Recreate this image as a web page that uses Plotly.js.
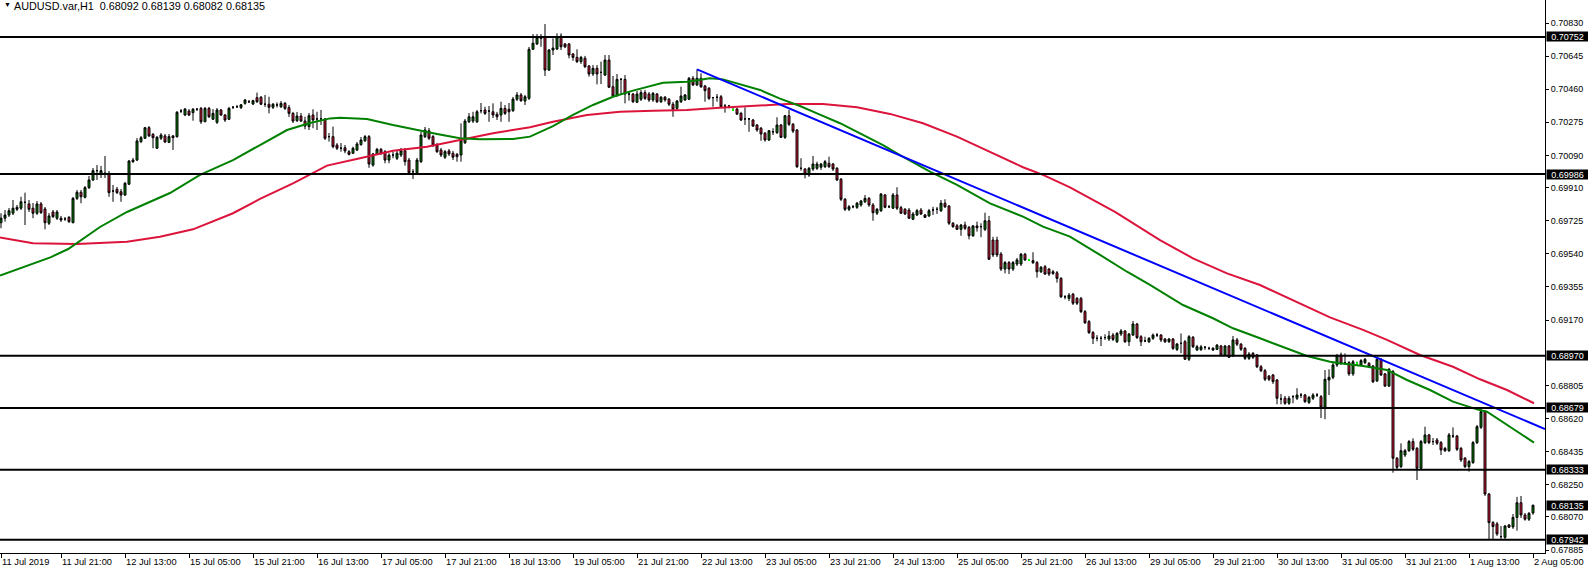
<!DOCTYPE html>
<html>
<head>
<meta charset="utf-8">
<script src="https://cdn.plot.ly/plotly-3.0.1.min.js"></script>
<style>
html,body{margin:0;padding:0;background:#ffffff;}
#chart{width:1588px;height:570px;}
</style>
</head>
<body>
<div id="chart"></div>
<script>
// ---- OHLC data, one value per H1 bar (11 Jul 06:00 .. 2 Aug 05:00) ----
const openP = [
0.69714,0.69739,0.69757,0.69767,0.69789,0.69795,0.69828,0.69819,0.69795,0.69767,0.69819,0.69791,0.69711,0.69774,0.69739,0.69739,
0.69735,0.69744,0.69714,0.69850,0.69884,0.69856,0.69910,0.69953,0.70005,0.69990,0.69990,0.69990,0.69891,0.69901,0.69887,0.69869,
0.69929,0.70055,0.70064,0.70167,0.70186,0.70245,0.70208,0.70130,0.70186,0.70199,0.70163,0.70199,0.70195,0.70338,0.70316,0.70338,
0.70329,0.70348,0.70353,0.70278,0.70353,0.70292,0.70275,0.70344,0.70316,0.70292,0.70359,0.70362,0.70357,0.70381,0.70390,0.70377,
0.70413,0.70415,0.70376,0.70376,0.70359,0.70372,0.70362,0.70381,0.70357,0.70325,0.70284,0.70310,0.70282,0.70251,0.70316,0.70294,
0.70294,0.70294,0.70195,0.70195,0.70148,0.70130,0.70133,0.70111,0.70102,0.70120,0.70150,0.70172,0.70195,0.70036,0.70098,0.70124,
0.70111,0.70064,0.70092,0.70074,0.70092,0.70116,0.70064,0.69999,0.69993,0.70055,0.70195,0.70228,0.70195,0.70148,0.70120,0.70080,
0.70115,0.70102,0.70096,0.70092,0.70161,0.70278,0.70282,0.70278,0.70340,0.70344,0.70338,0.70334,0.70320,0.70316,0.70353,0.70348,
0.70340,0.70404,0.70428,0.70394,0.70409,0.70683,0.70713,0.70744,0.70753,0.70567,0.70679,0.70685,0.70757,0.70713,0.70713,0.70657,
0.70638,0.70614,0.70633,0.70590,0.70545,0.70577,0.70554,0.70539,0.70623,0.70474,0.70428,0.70515,0.70515,0.70433,0.70433,0.70387,
0.70404,0.70441,0.70433,0.70400,0.70433,0.70390,0.70415,0.70404,0.70376,0.70353,0.70390,0.70400,0.70404,0.70521,0.70484,0.70521,
0.70478,0.70465,0.70413,0.70415,0.70418,0.70366,0.70366,0.70344,0.70349,0.70325,0.70294,0.70294,0.70288,0.70260,0.70242,0.70214,
0.70176,0.70222,0.70217,0.70260,0.70191,0.70312,0.70264,0.70232,0.70018,0.70014,0.69981,0.70014,0.70018,0.70024,0.70027,0.70046,
0.70042,0.70018,0.69957,0.69845,0.69789,0.69803,0.69800,0.69813,0.69831,0.69850,0.69813,0.69767,0.69781,0.69869,0.69803,0.69795,
0.69869,0.69798,0.69789,0.69785,0.69733,0.69757,0.69785,0.69757,0.69752,0.69785,0.69789,0.69781,0.69823,0.69807,0.69711,0.69697,
0.69677,0.69701,0.69688,0.69641,0.69696,0.69692,0.69677,0.69725,0.69617,0.69617,0.69539,0.69455,0.69491,0.69455,0.69483,0.69483,
0.69538,0.69506,0.69502,0.69491,0.69440,0.69468,0.69455,0.69440,0.69434,0.69403,0.69300,0.69291,0.69315,0.69291,0.69291,0.69217,
0.69161,0.69100,0.69068,0.69068,0.69072,0.69064,0.69086,0.69049,0.69092,0.69109,0.69049,0.69086,0.69148,0.69077,0.69053,0.69049,
0.69068,0.69086,0.69086,0.69064,0.69049,0.69064,0.69006,0.69040,0.69049,0.68951,0.69074,0.69003,0.69005,0.69018,0.69012,0.69012,
0.69006,0.69025,0.68974,0.69025,0.68974,0.69059,0.69035,0.69012,0.68956,0.68984,0.68975,0.68909,0.68887,0.68857,0.68863,0.68835,
0.68729,0.68733,0.68705,0.68742,0.68733,0.68751,0.68751,0.68710,0.68733,0.68751,0.68742,0.68683,0.68835,0.68850,0.68919,0.68975,
0.68932,0.68932,0.68869,0.68928,0.68919,0.68932,0.68928,0.68913,0.68830,0.68951,0.68869,0.68801,0.68882,0.68398,0.68351,0.68416,
0.68440,0.68491,0.68453,0.68342,0.68485,0.68528,0.68491,0.68500,0.68485,0.68453,0.68440,0.68522,0.68522,0.68453,0.68398,0.68351,
0.68374,0.68485,0.68571,0.68658,0.68198,0.68038,0.68031,0.67960,0.67956,0.68025,0.68014,0.68067,0.68149,0.68081,0.68057,0.68092
];
const highP = [
0.69767,0.69785,0.69796,0.69841,0.69813,0.69859,0.69882,0.69841,0.69824,0.69835,0.69830,0.69802,0.69768,0.69785,0.69785,0.69752,
0.69746,0.69752,0.69858,0.69897,0.69897,0.69919,0.69975,0.70020,0.70036,0.70031,0.70087,0.70003,0.69925,0.69914,0.69902,0.69942,
0.70064,0.70076,0.70187,0.70199,0.70249,0.70254,0.70215,0.70199,0.70215,0.70210,0.70210,0.70204,0.70338,0.70349,0.70355,0.70349,
0.70355,0.70355,0.70361,0.70361,0.70361,0.70349,0.70355,0.70349,0.70321,0.70361,0.70366,0.70372,0.70377,0.70405,0.70400,0.70401,
0.70441,0.70422,0.70428,0.70418,0.70383,0.70386,0.70394,0.70389,0.70372,0.70333,0.70333,0.70327,0.70306,0.70327,0.70348,0.70334,
0.70344,0.70299,0.70215,0.70251,0.70159,0.70159,0.70148,0.70120,0.70139,0.70165,0.70193,0.70204,0.70204,0.70104,0.70132,0.70132,
0.70120,0.70102,0.70111,0.70120,0.70132,0.70132,0.70076,0.70014,0.70076,0.70221,0.70249,0.70243,0.70204,0.70159,0.70132,0.70120,
0.70126,0.70115,0.70104,0.70269,0.70294,0.70327,0.70334,0.70344,0.70383,0.70362,0.70366,0.70381,0.70333,0.70390,0.70372,0.70383,
0.70417,0.70444,0.70439,0.70428,0.70696,0.70768,0.70768,0.70768,0.70824,0.70685,0.70744,0.70772,0.70772,0.70718,0.70718,0.70662,
0.70683,0.70646,0.70646,0.70595,0.70595,0.70595,0.70614,0.70651,0.70651,0.70534,0.70545,0.70523,0.70539,0.70446,0.70439,0.70450,
0.70456,0.70456,0.70444,0.70444,0.70439,0.70422,0.70422,0.70411,0.70389,0.70400,0.70474,0.70433,0.70528,0.70534,0.70571,0.70549,
0.70484,0.70472,0.70417,0.70433,0.70428,0.70377,0.70372,0.70355,0.70355,0.70333,0.70359,0.70299,0.70294,0.70266,0.70249,0.70221,
0.70232,0.70242,0.70303,0.70266,0.70316,0.70344,0.70271,0.70238,0.70074,0.70020,0.70025,0.70087,0.70055,0.70048,0.70064,0.70083,
0.70048,0.70025,0.69964,0.69852,0.69813,0.69813,0.69830,0.69841,0.69869,0.69858,0.69824,0.69796,0.69880,0.69874,0.69813,0.69880,
0.69912,0.69808,0.69796,0.69796,0.69774,0.69791,0.69796,0.69763,0.69791,0.69803,0.69802,0.69841,0.69845,0.69813,0.69718,0.69707,
0.69707,0.69720,0.69696,0.69701,0.69720,0.69711,0.69770,0.69752,0.69635,0.69636,0.69550,0.69500,0.69500,0.69500,0.69517,0.69545,
0.69545,0.69511,0.69549,0.69500,0.69472,0.69478,0.69461,0.69450,0.69444,0.69410,0.69309,0.69321,0.69321,0.69299,0.69299,0.69226,
0.69170,0.69109,0.69086,0.69081,0.69090,0.69109,0.69098,0.69103,0.69120,0.69114,0.69098,0.69165,0.69154,0.69086,0.69077,0.69075,
0.69095,0.69098,0.69092,0.69070,0.69070,0.69070,0.69042,0.69095,0.69059,0.69086,0.69081,0.69031,0.69031,0.69025,0.69021,0.69019,
0.69036,0.69031,0.69031,0.69031,0.69081,0.69070,0.69042,0.69019,0.68991,0.68991,0.68980,0.68919,0.68897,0.68863,0.68869,0.68841,
0.68757,0.68746,0.68746,0.68751,0.68789,0.68762,0.68757,0.68746,0.68762,0.68762,0.68751,0.68891,0.68895,0.68930,0.68981,0.68988,
0.68984,0.68941,0.68947,0.68937,0.68952,0.68958,0.68935,0.68919,0.68958,0.68958,0.68874,0.68902,0.68891,0.68405,0.68481,0.68450,
0.68500,0.68509,0.68461,0.68500,0.68574,0.68534,0.68511,0.68511,0.68494,0.68461,0.68539,0.68570,0.68528,0.68461,0.68405,0.68388,
0.68494,0.68584,0.68682,0.68667,0.68204,0.68047,0.68042,0.68019,0.68025,0.68030,0.68086,0.68182,0.68187,0.68092,0.68097,0.68139
];
const lowP = [
0.69683,0.69720,0.69746,0.69757,0.69779,0.69785,0.69701,0.69774,0.69739,0.69757,0.69763,0.69677,0.69701,0.69740,0.69729,0.69718,
0.69724,0.69712,0.69711,0.69841,0.69823,0.69850,0.69902,0.69947,0.69953,0.69964,0.69964,0.69859,0.69831,0.69874,0.69831,0.69863,
0.69925,0.70048,0.70059,0.70159,0.70182,0.70193,0.70130,0.70126,0.70176,0.70159,0.70159,0.70120,0.70189,0.70327,0.70310,0.70310,
0.70284,0.70338,0.70266,0.70277,0.70299,0.70288,0.70266,0.70310,0.70277,0.70288,0.70349,0.70355,0.70349,0.70373,0.70383,0.70372,
0.70383,0.70372,0.70361,0.70325,0.70349,0.70358,0.70355,0.70344,0.70305,0.70271,0.70277,0.70277,0.70236,0.70232,0.70242,0.70232,
0.70260,0.70176,0.70167,0.70130,0.70120,0.70111,0.70102,0.70090,0.70098,0.70115,0.70145,0.70165,0.70021,0.70027,0.70092,0.70092,
0.70046,0.70046,0.70074,0.70064,0.70081,0.70033,0.69981,0.69958,0.69986,0.70048,0.70187,0.70176,0.70137,0.70104,0.70081,0.70070,
0.70087,0.70064,0.70055,0.70055,0.70154,0.70271,0.70271,0.70271,0.70325,0.70316,0.70278,0.70299,0.70288,0.70278,0.70316,0.70278,
0.70333,0.70394,0.70389,0.70372,0.70400,0.70679,0.70707,0.70697,0.70534,0.70562,0.70651,0.70679,0.70679,0.70690,0.70633,0.70619,
0.70606,0.70601,0.70578,0.70530,0.70534,0.70487,0.70489,0.70534,0.70467,0.70417,0.70417,0.70428,0.70381,0.70396,0.70383,0.70383,
0.70394,0.70400,0.70389,0.70389,0.70383,0.70383,0.70390,0.70366,0.70306,0.70344,0.70383,0.70394,0.70400,0.70478,0.70478,0.70467,
0.70390,0.70400,0.70362,0.70390,0.70355,0.70329,0.70353,0.70338,0.70316,0.70282,0.70260,0.70222,0.70249,0.70222,0.70172,0.70167,
0.70171,0.70204,0.70210,0.70187,0.70182,0.70254,0.70215,0.70020,0.70005,0.69962,0.69970,0.70003,0.70009,0.70009,0.70020,0.70020,
0.70003,0.69947,0.69835,0.69779,0.69779,0.69795,0.69791,0.69803,0.69824,0.69803,0.69725,0.69757,0.69774,0.69795,0.69796,0.69791,
0.69785,0.69763,0.69757,0.69735,0.69729,0.69752,0.69757,0.69740,0.69746,0.69757,0.69763,0.69774,0.69796,0.69701,0.69685,0.69673,
0.69641,0.69673,0.69621,0.69635,0.69664,0.69633,0.69667,0.69506,0.69522,0.69522,0.69444,0.69431,0.69427,0.69444,0.69472,0.69472,
0.69500,0.69500,0.69483,0.69407,0.69433,0.69422,0.69416,0.69422,0.69379,0.69293,0.69286,0.69276,0.69254,0.69254,0.69209,0.69148,
0.69092,0.69036,0.69051,0.69025,0.69059,0.69053,0.69053,0.69042,0.69081,0.69042,0.69025,0.69081,0.69064,0.69025,0.69047,0.69042,
0.69059,0.69075,0.69047,0.69042,0.69042,0.69003,0.68997,0.68985,0.68947,0.68941,0.69014,0.68997,0.68997,0.69003,0.69003,0.68997,
0.69003,0.68969,0.68969,0.68958,0.68963,0.69025,0.68997,0.68947,0.68947,0.68952,0.68902,0.68879,0.68829,0.68829,0.68813,0.68699,
0.68699,0.68696,0.68696,0.68705,0.68723,0.68734,0.68707,0.68701,0.68723,0.68740,0.68622,0.68616,0.68751,0.68839,0.68908,0.68919,
0.68919,0.68858,0.68858,0.68919,0.68913,0.68924,0.68902,0.68818,0.68824,0.68858,0.68796,0.68796,0.68317,0.68332,0.68343,0.68405,
0.68433,0.68438,0.68276,0.68338,0.68477,0.68477,0.68472,0.68472,0.68416,0.68433,0.68433,0.68511,0.68438,0.68377,0.68343,0.68323,
0.68366,0.68477,0.68561,0.68187,0.67941,0.67941,0.67964,0.67945,0.67941,0.68008,0.68003,0.67993,0.68064,0.68049,0.68047,0.68082
];
const closeP = [
0.69739,0.69757,0.69781,0.69795,0.69800,0.69831,0.69828,0.69789,0.69767,0.69819,0.69770,0.69714,0.69752,0.69748,0.69774,0.69729,
0.69735,0.69720,0.69850,0.69884,0.69859,0.69910,0.69953,0.70005,0.70005,0.70005,0.69990,0.69882,0.69891,0.69882,0.69869,0.69934,
0.70059,0.70064,0.70171,0.70189,0.70245,0.70199,0.70189,0.70191,0.70204,0.70165,0.70195,0.70189,0.70331,0.70338,0.70349,0.70316,
0.70348,0.70348,0.70278,0.70353,0.70306,0.70325,0.70344,0.70316,0.70288,0.70353,0.70359,0.70362,0.70373,0.70400,0.70390,0.70396,
0.70390,0.70376,0.70376,0.70359,0.70376,0.70372,0.70381,0.70353,0.70325,0.70282,0.70310,0.70282,0.70254,0.70312,0.70288,0.70294,
0.70294,0.70186,0.70195,0.70139,0.70130,0.70130,0.70115,0.70096,0.70130,0.70154,0.70176,0.70195,0.70042,0.70098,0.70124,0.70102,
0.70064,0.70092,0.70092,0.70102,0.70116,0.70055,0.69993,0.69999,0.70064,0.70204,0.70232,0.70186,0.70148,0.70111,0.70092,0.70111,
0.70098,0.70080,0.70083,0.70176,0.70282,0.70306,0.70306,0.70334,0.70340,0.70325,0.70338,0.70316,0.70306,0.70353,0.70325,0.70334,
0.70405,0.70428,0.70396,0.70418,0.70683,0.70717,0.70750,0.70753,0.70567,0.70679,0.70690,0.70753,0.70697,0.70697,0.70651,0.70638,
0.70614,0.70638,0.70586,0.70545,0.70577,0.70545,0.70554,0.70623,0.70471,0.70422,0.70515,0.70515,0.70433,0.70433,0.70390,0.70433,
0.70441,0.70409,0.70400,0.70437,0.70390,0.70415,0.70400,0.70376,0.70348,0.70394,0.70422,0.70428,0.70521,0.70484,0.70521,0.70474,
0.70452,0.70409,0.70413,0.70415,0.70362,0.70366,0.70366,0.70344,0.70321,0.70288,0.70294,0.70294,0.70254,0.70232,0.70210,0.70176,
0.70228,0.70222,0.70260,0.70191,0.70312,0.70264,0.70226,0.70027,0.70018,0.69986,0.70018,0.70042,0.70042,0.70042,0.70055,0.70027,
0.70014,0.69953,0.69845,0.69789,0.69803,0.69803,0.69823,0.69835,0.69850,0.69813,0.69770,0.69789,0.69874,0.69800,0.69803,0.69869,
0.69795,0.69767,0.69763,0.69739,0.69763,0.69781,0.69763,0.69744,0.69781,0.69785,0.69789,0.69823,0.69803,0.69711,0.69692,0.69677,
0.69701,0.69683,0.69641,0.69696,0.69686,0.69692,0.69725,0.69510,0.69534,0.69534,0.69455,0.69491,0.69455,0.69491,0.69506,0.69538,
0.69506,0.69506,0.69491,0.69440,0.69465,0.69427,0.69427,0.69431,0.69403,0.69300,0.69300,0.69309,0.69264,0.69264,0.69217,0.69155,
0.69100,0.69068,0.69068,0.69068,0.69072,0.69081,0.69062,0.69095,0.69109,0.69049,0.69092,0.69148,0.69072,0.69049,0.69053,0.69068,
0.69086,0.69086,0.69059,0.69049,0.69064,0.69012,0.69036,0.69040,0.68951,0.69077,0.69021,0.69021,0.69020,0.69018,0.69012,0.69003,
0.69030,0.68974,0.69025,0.68962,0.69059,0.69035,0.69007,0.68956,0.68980,0.68962,0.68909,0.68887,0.68839,0.68839,0.68826,0.68733,
0.68729,0.68705,0.68733,0.68742,0.68751,0.68751,0.68714,0.68738,0.68751,0.68751,0.68683,0.68839,0.68850,0.68919,0.68970,0.68928,
0.68932,0.68869,0.68937,0.68928,0.68943,0.68951,0.68909,0.68825,0.68951,0.68863,0.68801,0.68895,0.68398,0.68347,0.68440,0.68440,
0.68491,0.68448,0.68342,0.68491,0.68528,0.68485,0.68491,0.68482,0.68444,0.68440,0.68528,0.68522,0.68448,0.68388,0.68351,0.68379,
0.68485,0.68574,0.68658,0.68198,0.68038,0.68016,0.67975,0.67960,0.68019,0.68012,0.68067,0.68149,0.68081,0.68057,0.68090,0.68135
];

// bars drawn as bright-green doji crosses in the original
const limeDojiBars = [183, 257, 339];

// ---- time axis labels (bar index -> label) ----
const tickBars = [0,15,31,47,63,79,95,111,127,143,159,175,191,207,223,239,255,271,287,303,319,335,351,367,383];
const tickLabels = ["11 Jul 2019","11 Jul 21:00","12 Jul 13:00","15 Jul 05:00","15 Jul 21:00","16 Jul 13:00",
  "17 Jul 05:00","17 Jul 21:00","18 Jul 13:00","19 Jul 05:00","21 Jul 21:00","22 Jul 13:00","23 Jul 05:00",
  "23 Jul 21:00","24 Jul 13:00","25 Jul 05:00","25 Jul 21:00","26 Jul 13:00","29 Jul 05:00","29 Jul 21:00",
  "30 Jul 13:00","31 Jul 05:00","31 Jul 21:00","1 Aug 13:00","2 Aug 05:00"];

// ---- price axis labels ----
const priceTicks = [0.70830,0.70645,0.70460,0.70275,0.70090,0.69910,0.69725,0.69540,0.69355,0.69170,
  0.68805,0.68620,0.68435,0.68250,0.68070,0.67885];

// ---- horizontal levels and current price ----
const levels = [0.70752,0.69986,0.68970,0.68679,0.68333,0.67942];
const lastPrice = 0.68135;

// ---- moving averages ----
const maGreenX = [-0.25,12.5,16.8,24.75,31.5,42.25,49.75,58,64.75,71.5,77.25,82.25,84.75,91.5,98,104.75,109,114.75,119.75,128,132.25,
  138,143,148,153,158,165.5,171.5,177.25,180.5,184.75,189.75,194.75,199.75,204,209.75,220.5,224.75,232.25,239,247.25,255.5,260.5,
  267.25,274.75,281.5,287.25,295.5,303,308,314.75,321.5,326.5,332.25,334.75,340.5,346.5,351.5,357.25,363,369,371.5,376.5,383.25];
const maGreenY = [0.69419,0.69522,0.69567,0.69690,0.69774,0.69880,0.69981,0.70064,0.70148,0.70232,0.70271,0.70297,0.70301,0.70294,
  0.70260,0.70228,0.70210,0.70186,0.70180,0.70182,0.70195,0.70254,0.70316,0.70372,0.70418,0.70452,0.70496,0.70502,0.70521,0.70515,
  0.70489,0.70456,0.70407,0.70366,0.70325,0.70270,0.70148,0.70092,0.69999,0.69925,0.69822,0.69748,0.69692,0.69636,0.69534,0.69440,
  0.69366,0.69254,0.69180,0.69124,0.69068,0.69012,0.68969,0.68937,0.68928,0.68913,0.68891,0.68835,0.68779,0.68714,0.68671,0.68658,
  0.68584,0.68485];
const maRedX = [-0.25,8,19,31.5,39.75,48,58,64.75,73,81.5,89.75,98,106.5,114.75,123,132.25,138,146.5,154.75,163,171.5,179.75,188,
  196.5,205.5,214,222.25,230.5,239,247.25,255.5,260.5,267.25,278.5,289.75,298,306.5,314.75,323,332.25,340.5,346.5,354.75,363,
  369.75,376.5,383.25];
const maRedY = [0.69631,0.69599,0.69595,0.69608,0.69636,0.69677,0.69767,0.69847,0.69934,0.70033,0.70074,0.70116,0.70139,0.70176,
  0.70214,0.70247,0.70278,0.70316,0.70334,0.70340,0.70344,0.70357,0.70366,0.70377,0.70377,0.70359,0.70322,0.70270,0.70195,0.70111,
  0.70024,0.69981,0.69912,0.69774,0.69617,0.69515,0.69431,0.69366,0.69282,0.69185,0.69115,0.69059,0.68975,0.68909,0.68839,0.68779,
  0.68705];

// ---- trend line ----
const trendX = [174, 386];
const trendY = [0.70571, 0.68561];

const titleText = "AUDUSD.var,H1  0.68092 0.68139 0.68082 0.68135";

// ---------------------------------------------------------------
const bars = openP.map((_, i) => i);
const FONT = "'Liberation Sans', Arial, sans-serif";

const candles = {
  type: 'candlestick',
  x: bars, open: openP, high: highP, low: lowP, close: closeP,
  increasing: {line: {color: '#000000', width: 1}, fillcolor: '#008000'},
  decreasing: {line: {color: '#000000', width: 1}, fillcolor: '#DC143C'},
  whiskerwidth: 0,
  hoverinfo: 'skip',
  showlegend: false
};

const lime = {
  type: 'candlestick',
  x: limeDojiBars,
  open: limeDojiBars.map(i => openP[i]),
  high: limeDojiBars.map(i => highP[i]),
  low: limeDojiBars.map(i => lowP[i]),
  close: limeDojiBars.map(i => closeP[i]),
  increasing: {line: {color: '#00FF00', width: 1}, fillcolor: '#00FF00'},
  decreasing: {line: {color: '#00FF00', width: 1}, fillcolor: '#00FF00'},
  whiskerwidth: 0,
  hoverinfo: 'skip',
  showlegend: false
};

const redMA = {type: 'scatter', mode: 'lines', x: maRedX, y: maRedY,
  line: {color: '#DC143C', width: 2}, hoverinfo: 'skip', showlegend: false};
const greenMA = {type: 'scatter', mode: 'lines', x: maGreenX, y: maGreenY,
  line: {color: '#008000', width: 2}, hoverinfo: 'skip', showlegend: false};
const trend = {type: 'scatter', mode: 'lines', x: trendX, y: trendY,
  line: {color: '#0000FF', width: 2}, hoverinfo: 'skip', showlegend: false};

const shapes = levels.map(v => ({
  type: 'line', xref: 'paper', x0: 0, x1: 1, yref: 'y', y0: v, y1: v,
  line: {color: '#000000', width: 2}, layer: 'above'
}));

const annotations = [];
annotations.push({xref: 'paper', yref: 'paper', x: 0, y: 1, xanchor: 'left', yanchor: 'top',
  xshift: 2, yshift: 1, text: '▼', showarrow: false, font: {family: FONT, size: 7, color: '#000'}});
annotations.push({xref: 'paper', yref: 'paper', x: 0, y: 1, xanchor: 'left', yanchor: 'top',
  xshift: 12, yshift: 2, text: titleText.replace(/ /g, '&nbsp;'),
  showarrow: false, font: {family: FONT, size: 10.8, color: '#000'}});
levels.concat([lastPrice]).forEach(v => {
  annotations.push({xref: 'paper', yref: 'y', x: 1, y: v, xanchor: 'left', yanchor: 'middle',
    xshift: 1, width: 41, height: 9, align: 'center', text: v.toFixed(5), showarrow: false,
    bgcolor: '#000000', borderpad: 0,
    font: {family: FONT, size: 9, color: '#FFFFFF'}});
});

const layout = {
  width: 1588, height: 570,
  margin: {l: 0, r: 43, t: 0, b: 17, pad: 0},
  paper_bgcolor: '#FFFFFF', plot_bgcolor: '#FFFFFF',
  showlegend: false,
  boxgap: 0.3,
  xaxis: {
    type: 'linear', range: [-0.25, 386], showgrid: false, zeroline: false,
    showline: true, linecolor: '#000', linewidth: 1,
    ticks: 'outside', ticklen: 4, tickwidth: 1, tickcolor: '#000',
    tickvals: tickBars, ticktext: tickLabels,
    ticklabelposition: 'outside right',
    tickfont: {family: FONT, size: 9.3, color: '#000'},
    rangeslider: {visible: false}, fixedrange: true, automargin: false
  },
  yaxis: {
    side: 'right', range: [0.678683, 0.709585], showgrid: false, zeroline: false,
    showline: true, linecolor: '#000', linewidth: 1,
    ticks: 'outside', ticklen: 3, tickwidth: 1, tickcolor: '#000',
    tickvals: priceTicks, ticktext: priceTicks.map(v => v.toFixed(5)),
    tickfont: {family: FONT, size: 9, color: '#000'},
    fixedrange: true, automargin: false
  },
  shapes: shapes,
  annotations: annotations
};

Plotly.newPlot('chart', [candles, lime, redMA, greenMA, trend], layout, {staticPlot: true, displayModeBar: false});
</script>
</body>
</html>
